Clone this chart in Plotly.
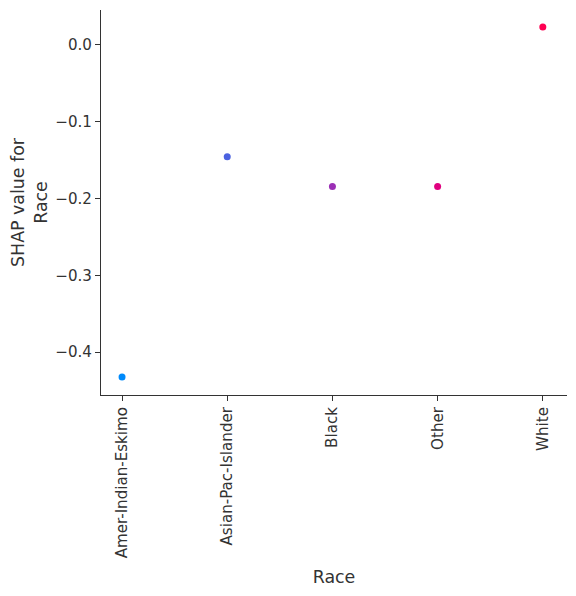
import plotly.graph_objects as go

# SHAP dependence plot for the "Race" feature
races = ["Amer-Indian-Eskimo", "Asian-Pac-Islander", "Black", "Other", "White"]
shap_values = [-0.4325, -0.1455, -0.1845, -0.1845, 0.0235]
point_colors = ["#008afb", "#4b62e0", "#9b2fb5", "#e0007f", "#ff0052"]

y_ticks = [0.0, -0.1, -0.2, -0.3, -0.4]
y_tick_text = ["0.0", "\u22120.1", "\u22120.2", "\u22120.3", "\u22120.4"]

fig = go.Figure()
fig.add_trace(go.Scatter(
    x=list(range(len(races))),
    y=shap_values,
    mode="markers",
    marker=dict(color=point_colors, size=7, line=dict(width=0)),
    showlegend=False,
))

axis_style = dict(
    showline=True, linecolor="#333333", linewidth=1,
    ticks="outside", ticklen=5, tickcolor="#333333",
    showgrid=False, zeroline=False,
    tickfont=dict(size=15.1, color="#333333"),
)

fig.update_xaxes(
    **axis_style,
    tickvals=list(range(len(races))), ticktext=races,
    tickangle=-90, range=[-0.2, 4.23],
    title=dict(text="Race", font=dict(size=17.4, color="#333333"), standoff=13),
)
fig.update_yaxes(
    **axis_style,
    tickvals=y_ticks, ticktext=y_tick_text,
    range=[-0.456, 0.0455],
    title=dict(text="SHAP value for<br>Race", font=dict(size=17.4, color="#333333"), standoff=8),
)

# page body adds an 8px offset, so the figure is sized to fit the window
fig.update_layout(
    width=568, height=588,
    margin=dict(l=93, r=9, t=2, b=201),
    plot_bgcolor="white", paper_bgcolor="white",
    font=dict(family="DejaVu Sans", color="#333333"),
)

fig.write_html("out.html")
